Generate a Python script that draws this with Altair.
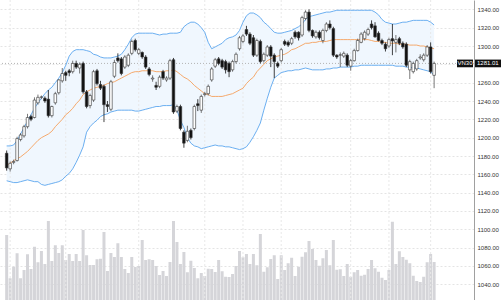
import altair as alt
import pandas as pd

# ---- candle data ----
OPEN = [1183, 1166, 1173, 1175, 1198, 1202, 1212, 1223, 1222, 1238,
        1244, 1243, 1242, 1224, 1238, 1249, 1262, 1271, 1273, 1272,
        1281, 1276, 1281, 1250, 1235, 1241, 1273, 1258, 1256, 1236,
        1231, 1267, 1287, 1286, 1277, 1279, 1292, 1306, 1292, 1293,
        1288, 1275, 1264, 1257, 1256, 1272, 1263, 1265, 1285, 1229,
        1234, 1206, 1197, 1208, 1210, 1237, 1230, 1247, 1248, 1263,
        1278, 1286, 1284, 1283, 1281, 1274, 1283, 1297, 1305, 1318,
        1313, 1309, 1290, 1305, 1284, 1290, 1299, 1290, 1281, 1284,
        1305, 1304, 1303, 1315, 1315, 1312, 1330, 1337, 1317, 1310,
        1315, 1306, 1317, 1324, 1319, 1290, 1290, 1289, 1290, 1278,
        1284, 1295, 1304, 1308, 1313, 1324, 1322, 1314, 1306, 1302,
        1300, 1308, 1304, 1308, 1303, 1302, 1274, 1272, 1275, 1287,
        1285, 1290, 1299, 1268]
HIGH = [1186, 1174, 1176, 1201, 1205, 1214, 1226, 1225, 1244, 1247,
        1246, 1245, 1252, 1235, 1250, 1264, 1276, 1273, 1275, 1284,
        1284, 1282, 1283, 1252, 1248, 1274, 1275, 1262, 1258, 1240,
        1263, 1285, 1292, 1288, 1290, 1292, 1307, 1308, 1298, 1294,
        1290, 1277, 1268, 1261, 1268, 1274, 1267, 1286, 1287, 1236,
        1236, 1208, 1213, 1210, 1236, 1242, 1247, 1250, 1258, 1277,
        1287, 1288, 1286, 1285, 1283, 1285, 1293, 1311, 1313, 1322,
        1315, 1312, 1308, 1307, 1293, 1301, 1301, 1292, 1283, 1298,
        1307, 1306, 1310, 1317, 1316, 1333, 1339, 1340, 1318, 1317,
        1317, 1319, 1326, 1328, 1321, 1291, 1293, 1294, 1292, 1286,
        1297, 1308, 1315, 1317, 1320, 1328, 1326, 1316, 1308, 1304,
        1309, 1324, 1312, 1310, 1305, 1304, 1285, 1283, 1286, 1291,
        1292, 1301, 1304, 1283]
LOW = [1164, 1163, 1171, 1174, 1196, 1200, 1210, 1218, 1221, 1236,
       1242, 1238, 1222, 1222, 1236, 1247, 1260, 1262, 1267, 1270,
       1275, 1270, 1248, 1232, 1232, 1239, 1257, 1252, 1217, 1228,
       1229, 1265, 1282, 1268, 1275, 1277, 1290, 1294, 1290, 1286,
       1275, 1267, 1261, 1252, 1254, 1263, 1261, 1263, 1226, 1227,
       1208, 1189, 1195, 1198, 1208, 1229, 1227, 1245, 1246, 1261,
       1276, 1279, 1275, 1270, 1266, 1272, 1281, 1295, 1303, 1311,
       1301, 1288, 1288, 1281, 1282, 1288, 1277, 1265, 1276, 1282,
       1300, 1299, 1301, 1308, 1306, 1310, 1328, 1315, 1309, 1308,
       1307, 1303, 1315, 1318, 1288, 1286, 1277, 1287, 1277, 1273,
       1283, 1294, 1303, 1306, 1311, 1318, 1309, 1305, 1301, 1294,
       1298, 1290, 1293, 1301, 1297, 1277, 1264, 1270, 1273, 1285,
       1283, 1288, 1270, 1254]
CLOSE = [1167, 1172, 1174, 1199, 1203, 1212, 1222, 1220, 1241, 1244,
         1244.5, 1240, 1224, 1234, 1248, 1263, 1270, 1268, 1271, 1281,
         1277, 1280, 1250, 1234, 1246, 1272, 1259, 1254, 1236, 1234,
         1261, 1282, 1284, 1270, 1288, 1290, 1305, 1296, 1296, 1288,
         1277, 1269, 1265, 1255, 1266, 1265, 1265, 1284, 1228, 1234,
         1210, 1194, 1207, 1200, 1234, 1235, 1245, 1248, 1256, 1275,
         1285, 1281, 1277, 1274, 1272, 1283, 1291, 1309, 1311, 1313,
         1303, 1290, 1306, 1283, 1291, 1299, 1289, 1283, 1278, 1296,
         1302, 1301, 1308, 1310, 1309, 1331, 1337, 1317, 1311, 1315,
         1309, 1317, 1324, 1320, 1290, 1288, 1290.5, 1292, 1279, 1284,
         1295, 1306, 1313, 1315, 1318, 1320, 1310, 1306, 1303, 1297,
         1307, 1305.5, 1307, 1303, 1299, 1279, 1283, 1281, 1284, 1288,
         1290, 1299, 1272, 1281.01]
VOLUME = [260, 87, 133, 187, 87, 120, 183, 124, 213, 151,
          196, 144, 316, 156, 219, 188, 219, 160, 184, 156,
          184, 156, 280, 179, 140, 140, 163, 165, 272, 116,
          188, 172, 227, 172, 124, 108, 172, 132, 136, 240,
          160, 163, 160, 136, 100, 116, 96, 152, 316, 232,
          144, 192, 111, 157, 128, 87, 108, 96, 125, 124,
          112, 160, 115, 93, 92, 104, 136, 196, 171, 184,
          144, 184, 139, 264, 113, 131, 164, 179, 84, 179,
          120, 147, 169, 96, 133, 173, 191, 236, 204, 160,
          137, 167, 200, 139, 240, 121, 123, 96, 144, 93,
          111, 120, 97, 101, 124, 160, 127, 113, 89, 80,
          120, 313, 144, 195, 172, 161, 147, 97, 76, 72,
          93, 151, 184, 152]
UPPER = [1191, 1191, 1192, 1197, 1204, 1211, 1218, 1225, 1232, 1238,
         1243, 1248, 1252, 1255, 1260, 1265, 1271, 1279, 1289, 1294,
         1296, 1296, 1296, 1295, 1294, 1291, 1290, 1288, 1287, 1287,
         1287, 1288, 1289, 1291, 1296, 1302, 1309, 1313, 1314, 1314,
         1314, 1314, 1314, 1313, 1312, 1313, 1313, 1314, 1314, 1314,
         1315, 1321, 1324, 1326, 1326, 1324, 1320, 1315, 1304, 1297,
         1299, 1301, 1303, 1307, 1309, 1310, 1312, 1317, 1326, 1333,
         1336, 1336, 1334, 1331, 1326, 1323, 1319, 1315, 1314, 1314,
         1315, 1316, 1317, 1319, 1321, 1324, 1329, 1332, 1333, 1334,
         1335, 1336, 1337, 1337, 1338, 1339, 1339, 1339, 1339, 1339,
         1339, 1339, 1339, 1339, 1339, 1339, 1337, 1334, 1329, 1326,
         1325, 1324, 1324, 1325, 1326, 1326, 1327, 1328, 1328, 1328,
         1328, 1328, 1326, 1323]
MIDDLE = [1170, 1172, 1175, 1177, 1179, 1182, 1185, 1189, 1193, 1197,
          1200, 1202, 1204, 1207, 1212, 1216, 1220, 1225, 1228, 1232,
          1237, 1241, 1247, 1250, 1252, 1254, 1255, 1256, 1257, 1259,
          1260, 1261, 1263, 1265, 1267, 1269, 1271, 1272, 1272, 1273,
          1273, 1273, 1273, 1272, 1272, 1272, 1273, 1273, 1274, 1272,
          1269, 1266, 1264, 1261, 1257, 1254, 1251, 1248, 1247, 1245,
          1245, 1245, 1245, 1246, 1247, 1248, 1250, 1252, 1254, 1259,
          1263, 1266, 1272, 1276, 1280, 1284, 1286, 1288, 1289, 1290,
          1291, 1293, 1296, 1297, 1299, 1301, 1303, 1303, 1304, 1304,
          1305, 1305, 1305, 1306, 1307, 1307, 1307, 1307, 1307, 1307,
          1307, 1307, 1307, 1307, 1307, 1306, 1305, 1305, 1304, 1304,
          1303, 1303, 1303, 1302, 1302, 1302, 1301, 1301, 1301, 1300,
          1300, 1299, 1298, 1297]
LOWER = [1153, 1152, 1151, 1151, 1152, 1153, 1154, 1153, 1152, 1152,
         1149, 1148, 1149, 1150, 1151, 1152, 1154, 1158, 1161, 1166,
         1173, 1181, 1190, 1206, 1212, 1216, 1219, 1223, 1225, 1226,
         1228, 1229, 1230, 1230, 1230, 1230, 1230, 1229, 1229, 1230,
         1231, 1232, 1233, 1234, 1234, 1235, 1235, 1235, 1236, 1230,
         1219, 1211, 1200, 1194, 1191, 1190, 1188, 1189, 1190, 1191,
         1192, 1191, 1191, 1190, 1190, 1189, 1188, 1187, 1188, 1190,
         1195, 1201, 1208, 1216, 1230, 1243, 1255, 1265, 1268, 1271,
         1272, 1273, 1273, 1274, 1274, 1275, 1276, 1275, 1274, 1274,
         1274, 1274, 1275, 1275, 1276, 1276, 1277, 1277, 1277, 1277,
         1278, 1278, 1279, 1279, 1279, 1279, 1279, 1279, 1279, 1279,
         1279, 1279, 1278, 1278, 1278, 1277, 1277, 1276, 1276, 1275,
         1274, 1273, 1272, 1268]
PRICE_TICKS = [1040, 1060, 1080, 1100, 1120, 1140, 1160, 1180, 1200, 1220,
               1240, 1260, 1280, 1300, 1320, 1340]
MONTH_GRID = [2, 18, 39, 58, 69, 80, 100, 111, 123]
SYMBOL = "VN30"
LAST = CLOSE[-1]
LABEL_HALF = 4.2  # half height of the last-price tag, in price units

idx = list(range(1, len(CLOSE) + 1))
df = pd.DataFrame({"i": idx, "open": OPEN, "high": HIGH, "low": LOW,
                   "close": CLOSE, "volume": VOLUME, "upper": UPPER,
                   "middle": MIDDLE, "lower": LOWER})
df["dir"] = ["up" if c >= o else "down" for o, c in zip(OPEN, CLOSE)]
grid_df = pd.DataFrame({"g": MONTH_GRID})
tag_df = pd.DataFrame({"last": [LAST], "top": [LAST + LABEL_HALF], "bot": [LAST - LABEL_HALF],
                       "sym": [SYMBOL], "txt": [f"{LAST:.2f}"]})

W, H = 474, 300
xs = alt.Scale(domain=[0.52, 134.04], nice=False, zero=False)
ys = alt.Scale(domain=[1022.9, 1350.2], nice=False, zero=False)
X = alt.X("i:Q", scale=xs, axis=None)
AX = alt.Axis(orient="right", values=PRICE_TICKS, format=".2f", title=None,
              labelFontSize=6, labelColor="#333333", labelFont="Liberation Sans",
              labelOverlap=False, labelBound=False, labelFlush=False,
              domainColor="#a0a0a0", domainWidth=1, ticks=False, labelPadding=3,
              grid=True, gridColor="#e4e4e4", gridDash=[2, 2], gridWidth=1)


def Y(field):
    return alt.Y(field, scale=ys, axis=AX, title=None)


vgrid = alt.Chart(grid_df).mark_rule(color="#e8e8e8", strokeDash=[2, 2], strokeWidth=1).encode(
    x=alt.X("g:Q", scale=xs, axis=None))

volume = alt.Chart(df).mark_bar(size=3, color="#d5d5d9").encode(
    x=X, y=alt.Y("volume:Q", scale=alt.Scale(domain=[0, 1200], nice=False), axis=None))

band = alt.Chart(df).mark_area(color="#f0f7fe", opacity=1).encode(
    x=X, y=Y("upper:Q"), y2="lower:Q")
up_line = alt.Chart(df).mark_line(color="#5ba6ee", strokeWidth=0.9).encode(x=X, y=Y("upper:Q"))
lo_line = alt.Chart(df).mark_line(color="#5ba6ee", strokeWidth=0.9).encode(x=X, y=Y("lower:Q"))
mid_line = alt.Chart(df).mark_line(color="#f5a05c", strokeWidth=0.9).encode(x=X, y=Y("middle:Q"))

price_line = alt.Chart(tag_df).mark_rule(color="#b4b4b4", strokeDash=[1, 2], strokeWidth=1).encode(
    y=Y("last:Q"))

wick = alt.Chart(df).mark_rule(strokeWidth=0.8).encode(
    x=X, y=Y("low:Q"), y2="high:Q",
    color=alt.Color("dir:N", scale=alt.Scale(domain=["up", "down"], range=["#555555", "#111111"]), legend=None))
body = alt.Chart(df).mark_bar(size=2.6, stroke="#333333", strokeWidth=0.6).encode(
    x=X, y=Y("open:Q"), y2="close:Q",
    fill=alt.Fill("dir:N", scale=alt.Scale(domain=["up", "down"], range=["#ffffff", "#111111"]), legend=None))

sym_box = alt.Chart(tag_df).mark_rect(color="#111111").encode(
    x=alt.value(457), x2=alt.value(473), y=Y("top:Q"), y2="bot:Q")
sym_txt = alt.Chart(tag_df).mark_text(color="white", fontSize=6, font="Liberation Sans",
                                      align="center", baseline="middle").encode(
    x=alt.value(465), y=Y("last:Q"), text="sym:N")
px_box = alt.Chart(tag_df).mark_rect(color="#111111").encode(
    x=alt.value(475), x2=alt.value(501), y=Y("top:Q"), y2="bot:Q")
px_txt = alt.Chart(tag_df).mark_text(color="white", fontSize=6, font="Liberation Sans",
                                     align="left", baseline="middle").encode(
    x=alt.value(477), y=Y("last:Q"), text="txt:N")

price = alt.layer(band, vgrid, up_line, lo_line, mid_line, price_line, wick, body,
                  sym_box, sym_txt, px_box, px_txt)

chart = alt.layer(volume, price).resolve_scale(y="independent").properties(
    width=W, height=H,
    padding={"left": 0, "right": 27, "top": 0, "bottom": 0},
    autosize=alt.AutoSizeParams(type="none"),
    background="white",
).configure_view(strokeWidth=0).configure_axis(labelOverlap=False)

chart.save("out.html", embed_options={"renderer": "svg", "actions": False})
